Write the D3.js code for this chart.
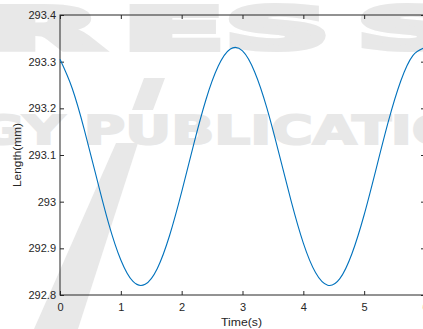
<!DOCTYPE html>
<html>
<head>
<meta charset="utf-8">
<script src="https://cdn.jsdelivr.net/npm/d3@7"></script>
<style>
  body { margin: 0; background: #fff; }
  svg { display: block; font-family: "Liberation Sans", Arial, sans-serif; }
</style>
</head>
<body>
<div id="chart"></div>
<script>
// values
const timeS = [0, 0.2, 0.4, 0.6, 0.8, 1.0, 1.2, 1.4, 1.6, 1.8, 2.0, 2.2, 2.4, 2.6, 2.8, 3.0,
  3.2, 3.4, 3.6, 3.8, 4.0, 4.2, 4.4, 4.6, 4.8, 5.0, 5.2, 5.4, 5.6, 5.8, 6.0];
const lengthMm = [293.305, 293.243, 293.154, 293.052, 292.953, 292.875, 292.829, 292.823,
  292.857, 292.927, 293.021, 293.124, 293.219, 293.290, 293.327, 293.323, 293.278, 293.201,
  293.103, 293.001, 292.911, 292.848, 292.821, 292.835, 292.889, 292.972, 293.072, 293.173,
  293.258, 293.313, 293.330];
const xTicks = [0, 1, 2, 3, 4, 5, 6];
const yTicks = [292.8, 292.9, 293, 293.1, 293.2, 293.3, 293.4];
const yTickLabels = ["292.8", "292.9", "293", "293.1", "293.2", "293.3", "293.4"];

const width = 423, height = 329;
const margin = {top: 15, right: -2, bottom: 34, left: 60};
const axisColor = "#262626";
const wmColor = "#e8e8e8";

const svg = d3.select("#chart").append("svg")
  .attr("width", width)
  .attr("height", height);

// watermark behind the plot
const wm = svg.append("g")
  .attr("fill", wmColor)
  .attr("stroke", wmColor)
  .attr("font-family", "DejaVu Sans")
  .attr("font-weight", "bold");

// letter, left x, horizontal stretch
const bigLetters = [["R", -14, 2.6], ["E", 124, 2.55], ["S", 226, 2.5], ["S", 358, 2.5]];
bigLetters.forEach(([ch, lx, sx]) => {
  wm.append("g")
    .attr("transform", `translate(${lx},49) scale(${sx},1)`)
    .append("text")
    .attr("font-size", 57)
    .attr("stroke-width", 6)
    .text(ch);
});

wm.append("g")
  .attr("transform", "translate(-22,144) scale(1.45,1)")
  .append("text")
  .attr("font-size", 39)
  .attr("stroke-width", 2)
  .text("GY PUBLICATIONS");

wm.append("polygon").attr("points", "34,329 78,329 138,143 116,143").attr("stroke", "none");
wm.append("polygon").attr("points", "144,78 165,78 153,110 132,110").attr("stroke", "none");

const x = d3.scaleLinear()
  .domain([0, 6])
  .range([margin.left, width - margin.right]);
const y = d3.scaleLinear()
  .domain([292.8, 293.4])
  .range([height - margin.bottom, margin.top]);

// frame
svg.append("rect")
  .attr("x", x(0)).attr("y", y(293.4))
  .attr("width", x(6) - x(0)).attr("height", y(292.8) - y(293.4))
  .attr("fill", "none")
  .attr("stroke", axisColor);

function styleAxis(g) {
  g.select(".domain").remove();
  g.selectAll(".tick line").attr("stroke", axisColor);
  g.selectAll("text")
    .attr("fill", axisColor)
    .style("font-size", "11px");
}

svg.append("g")
  .attr("transform", `translate(0,${y(292.8)})`)
  .call(d3.axisBottom(x).tickValues(xTicks).tickFormat(d3.format("d"))
    .tickSizeInner(-4).tickSizeOuter(0).tickPadding(8))
  .call(styleAxis);

svg.append("g")
  .attr("transform", `translate(0,${y(293.4)})`)
  .call(d3.axisTop(x).tickValues(xTicks).tickFormat("")
    .tickSizeInner(-4).tickSizeOuter(0))
  .call(styleAxis);

svg.append("g")
  .attr("transform", `translate(${x(0)},0)`)
  .call(d3.axisLeft(y).tickValues(yTicks).tickFormat((d, i) => yTickLabels[i])
    .tickSizeInner(-4).tickSizeOuter(0).tickPadding(4))
  .call(styleAxis);

svg.append("g")
  .attr("transform", `translate(${x(6)},0)`)
  .call(d3.axisRight(y).tickValues(yTicks).tickFormat("")
    .tickSizeInner(-4).tickSizeOuter(0))
  .call(styleAxis);

// the curve
const line = d3.line()
  .x((d, i) => x(timeS[i]))
  .y(d => y(d))
  .curve(d3.curveNatural);

svg.append("path")
  .datum(lengthMm)
  .attr("d", line)
  .attr("fill", "none")
  .attr("stroke", "#0072bd")
  .attr("stroke-width", 1.1);

// axis titles
svg.append("text")
  .attr("x", 241.5).attr("y", 326)
  .attr("text-anchor", "middle")
  .attr("textLength", 41).attr("lengthAdjust", "spacingAndGlyphs")
  .attr("fill", axisColor)
  .style("font-size", "11px")
  .text("Time(s)");

svg.append("text")
  .attr("transform", "translate(21,155) rotate(-90)")
  .attr("text-anchor", "middle")
  .attr("textLength", 64).attr("lengthAdjust", "spacingAndGlyphs")
  .attr("fill", axisColor)
  .style("font-size", "11px")
  .text("Length(mm)");
</script>
</body>
</html>
